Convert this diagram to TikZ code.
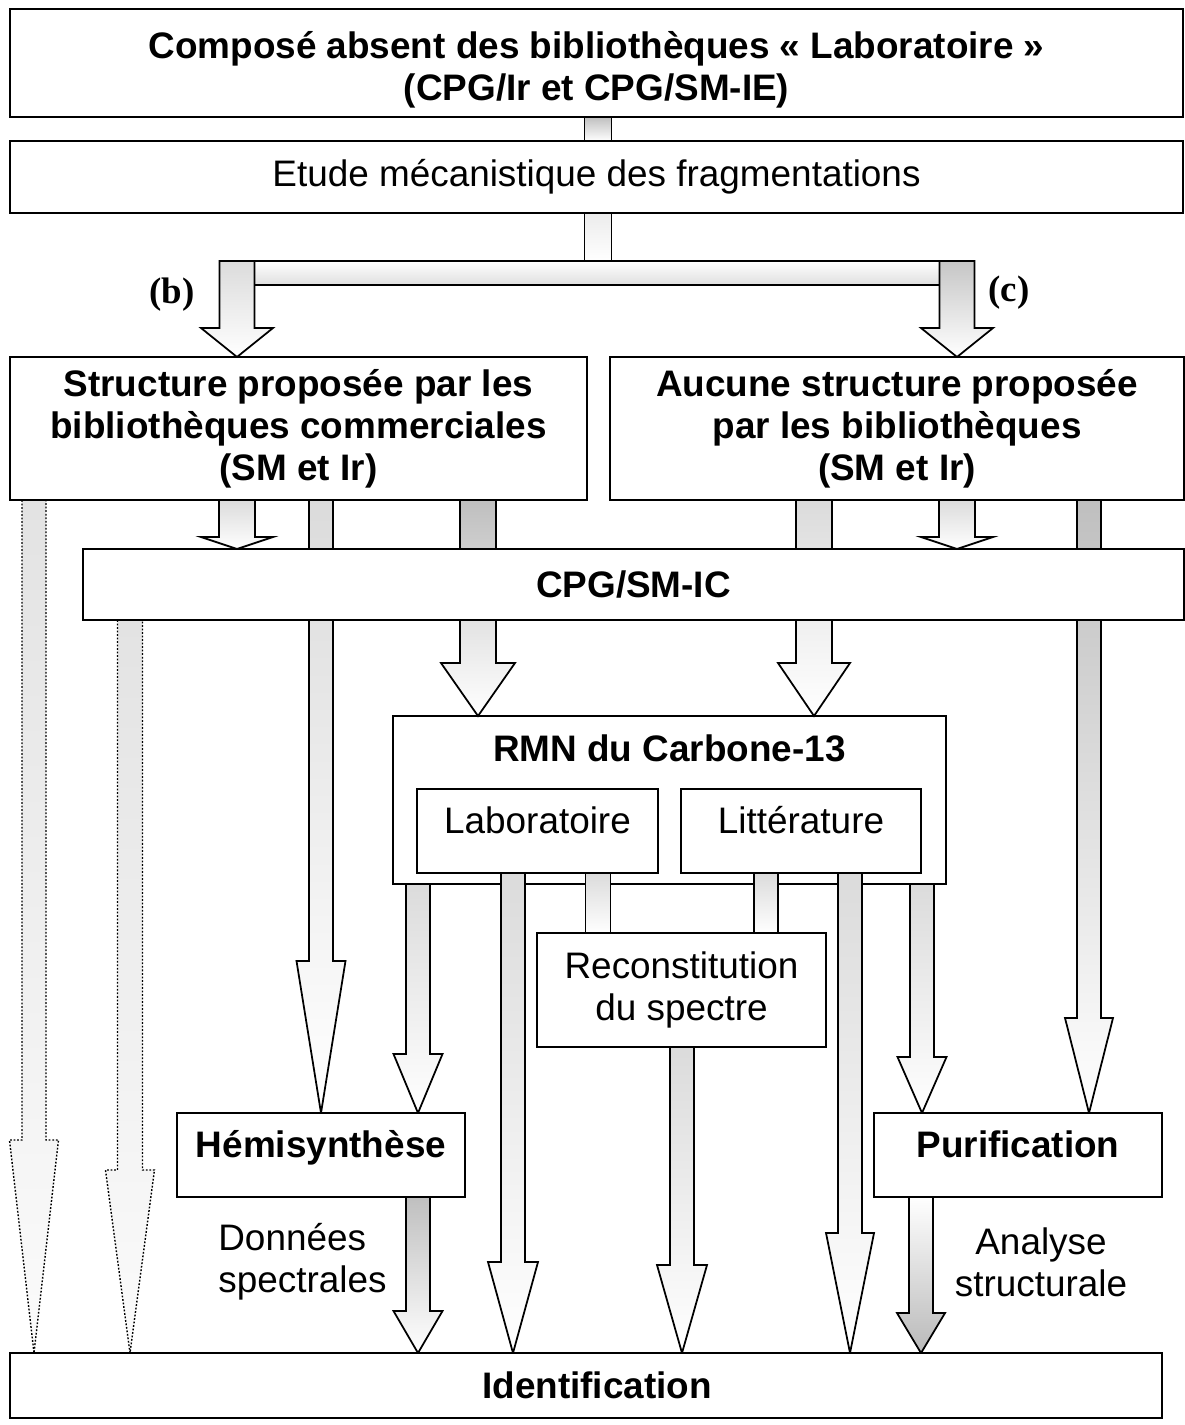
\documentclass[tikz,border=0pt]{standalone}
\usepackage{fontspec}
\setmainfont{Liberation Sans}
\newfontfamily\labfont{Liberation Serif}
\usetikzlibrary{calc}
\pgfdeclarelayer{back}
\pgfdeclarelayer{background}
\pgfsetlayers{back,background,main}
\newdimen\px
\px=0.02cm
% block arrow: [style]{x}{from}{to}{half shaft}{half head}{head length}
\newcommand{\flowarrow}[7][]{%
\coordinate (fa) at (#2,0 |- #3);
\coordinate (fb) at (#2,0 |- #4);
\path[flow,#1] ($(fa)+(-#5,0)$) -- ($(fb)+(-#5,-#7)$) -- ($(fb)+(-#6,-#7)$) -- (fb)
  -- ($(fb)+(#6,-#7)$) -- ($(fb)+(#5,-#7)$) -- ($(fa)+(#5,0)$) -- cycle;
}
% plain bar: [style]{x}{from}{to}{half width}
\newcommand{\flowbar}[5][]{%
\coordinate (fa) at (#2,0 |- #3);
\coordinate (fb) at (#2,0 |- #4);
\path[flow,#1] ($(fa)+(-#5,0)$) rectangle ($(fb)+(#5,0)$);
}
\begin{document}
\begin{tikzpicture}[x=0.02cm, y=-0.02cm,
  box/.style={draw, line width=1pt, fill=white, inner sep=0pt, outer sep=0pt, align=center, font=\fontsize{21}{24}\selectfont},
  bbox/.style={box, font=\fontsize{21}{24}\selectfont\bfseries},
  txt/.style={align=center, inner sep=0pt, font=\fontsize{21}{24}\selectfont},
  flow/.style={draw, line width=1pt, top color=gray!28, bottom color=white},
  dark/.style={top color=gray!50},
  faint/.style={line width=0.8pt, dash pattern=on 1pt off 1pt, top color=gray!22, bottom color=gray!3},
  upper/.style={text height=15pt, text depth=12pt}]
\useasboundingbox (0,0) rectangle (1185,1425);

% boxes
\node[bbox, minimum width=1173\px, minimum height=108\px] (top) at (596.5,63) {\rule{0pt}{23pt}Composé absent des bibliothèques « Laboratoire »\\(CPG/Ir et CPG/SM-IE)};
\node[box, minimum width=1173\px, minimum height=72\px] (etude) at (596.5,177) {Etude mécanistique des fragmentations};
\node[bbox, minimum width=577\px, minimum height=143\px] (lbox) at (298.5,428.5) {Structure proposée par les\\bibliothèques commerciales\\(SM et Ir)};
\node[bbox, minimum width=574\px, minimum height=143\px] (rbox) at (897,428.5) {Aucune structure proposée\\par les bibliothèques\\(SM et Ir)};
\node[bbox, minimum width=1101\px, minimum height=71\px] (cpg) at (633.5,584.5) {CPG/SM-IC};
\begin{pgfonlayer}{back}
\node[box, minimum width=553\px, minimum height=168\px] (rmn) at (669.5,800) {};
\end{pgfonlayer}
\node[txt, font=\fontsize{21}{24}\selectfont\bfseries] (rmntitle) at (669.5,748) {RMN du Carbone-13};
\node[box, upper, minimum width=241\px, minimum height=84\px] (lab) at (537.5,831) {Laboratoire};
\node[box, upper, minimum width=240\px, minimum height=84\px] (litt) at (801,831) {Littérature};
\node[box, minimum width=289\px, minimum height=114\px] (recon) at (681.5,990) {Reconstitution\\du spectre};
\node[bbox, upper, minimum width=288\px, minimum height=84\px] (hemi) at (321,1155) {Hémisynthèse};
\node[bbox, upper, minimum width=288\px, minimum height=84\px] (puri) at (1018,1155) {Purification};
\node[bbox, minimum width=1152\px, minimum height=65\px] (ident) at (586,1385.5) {\hspace*{22\px}Identification};
\node[txt, align=left, anchor=west] (donnees) at (218,1262) {Données\\spectrales};
\node[txt] (analyse) at (1041,1262) {Analyse\\structurale};
\node[txt, font=\labfont\bfseries\fontsize{21}{24}\selectfont] (b) at (172,295) {(b)};
\node[txt, font=\labfont\bfseries\fontsize{21}{24}\selectfont] (c) at (1009,293) {(c)};

% arrows
\begin{pgfonlayer}{background}
\coordinate (fork) at (598,261);
\flowbar[dark]{598}{top.south}{etude.north}{13.5}
\flowbar[top color=gray!15]{598}{etude.south}{fork}{13.5}
\path[flow, top color=white, bottom color=gray!25] (237,0 |- fork) rectangle ($(957,0 |- fork)+(0,24)$);
\flowarrow{237}{fork}{lbox.north}{17.5}{36}{29}
\flowarrow[top color=gray!45]{957}{fork}{rbox.north}{17.5}{36}{29}
\flowarrow{237}{lbox.south}{cpg.north}{18}{36}{12}
\flowarrow{957}{rbox.south}{cpg.north}{18}{36}{12}
\flowarrow[faint]{34}{lbox.south}{ident.north}{12}{24.5}{213}
\flowarrow[faint]{130}{cpg.south}{ident.north}{12.5}{24.5}{183}
\flowarrow{321}{lbox.south}{hemi.north}{12}{24.5}{152}
\flowarrow[dark]{478}{lbox.south}{rmn.north}{18}{37}{53}
\flowarrow{814}{rbox.south}{rmn.north}{18}{36}{53}
\flowarrow[dark]{1089}{rbox.south}{puri.north}{12}{24}{95}
\flowarrow{418}{rmn.south}{hemi.north}{12}{24.5}{59}
\flowarrow{513}{lab.south}{ident.north}{12}{25}{91}
\flowbar{598}{lab.south}{recon.north}{12.5}
\flowbar{766}{litt.south}{recon.north}{12}
\flowarrow{850}{litt.south}{ident.north}{12}{24}{120}
\flowarrow{922}{rmn.south}{puri.north}{12}{24.5}{56}
\flowarrow{682}{recon.south}{ident.north}{12}{25}{88}
\flowarrow[dark]{418}{hemi.south}{ident.north}{12}{24.5}{42}
\flowarrow[top color=white, bottom color=gray!55]{921}{puri.south}{ident.north}{12}{24}{40}
\end{pgfonlayer}
\end{tikzpicture}
\end{document}
